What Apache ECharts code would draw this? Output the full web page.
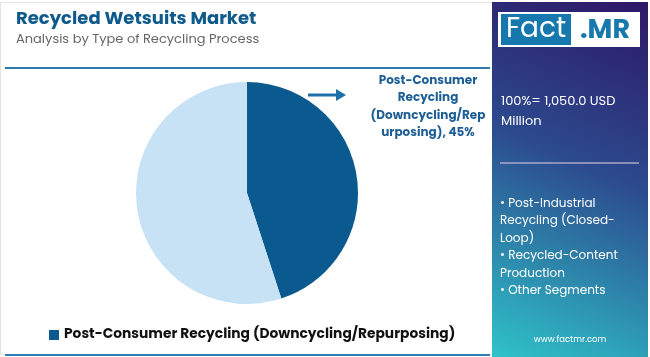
<!DOCTYPE html>
<html><head><meta charset="utf-8">
<script src="https://cdn.jsdelivr.net/npm/echarts@6/dist/echarts.min.js"></script>
<style>html,body{margin:0;padding:0;background:#fff}#c{width:650px;height:357px}</style>
</head><body><div id="c"></div>
<script>
const categories = ['Post-Consumer Recycling (Downcycling/Repurposing)', 'Other Segments Combined'];
const values = [45, 55];
const sliceColors = ['#0b5a8f', '#c6e2f4'];
const otherSegments = ['Post-Industrial\nRecycling (Closed-\nLoop)', 'Recycled-Content\nProduction', 'Other Segments'];
const totalText = '100%= 1,050.0 USD\nMillion';
const titleText = 'Recycled Wetsuits Market';
const subtitleText = 'Analysis by Type of Recycling Process';

const chart = echarts.init(document.getElementById('c'), null, {renderer: 'canvas'});
const F = 'Poppins, "Open Sans", sans-serif';
chart.setOption({
  animation: false,
  title: {
    text: titleText, subtext: subtitleText, left: 11, top: 5, itemGap: 5,
    textStyle: {fontFamily: F, fontSize: 18, fontWeight: 'bold', color: '#0e5a8c'},
    subtextStyle: {fontFamily: F, fontSize: 13, color: '#666'}
  },
  legend: {
    data: [categories[0]], left: 44, top: 323, itemWidth: 10, itemHeight: 10, icon: 'rect', itemGap: 6,
    textStyle: {fontFamily: F, fontSize: 13.8, fontWeight: 'bold', color: '#111'}
  },
  series: [{
    type: 'pie', radius: 111, center: [247, 193], startAngle: 90, clockwise: true,
    label: {show: false}, labelLine: {show: false}, silent: true,
    data: categories.map((n, i) => ({name: n, value: values[i], itemStyle: {color: sliceColors[i]}}))
  }],
  graphic: [
    {type: 'rect', shape: {x: 0.5, y: 2.5, width: 640, height: 352}, style: {fill: 'none', stroke: '#e2e2e2', lineWidth: 1}, z: 0},
    {type: 'line', shape: {x1: 5, y1: 68, x2: 490, y2: 68}, style: {stroke: '#2d7bb0', lineWidth: 2}},
    {type: 'line', shape: {x1: 5, y1: 355, x2: 490, y2: 355}, style: {stroke: '#2d7bb0', lineWidth: 2}},
    {type: 'rect', shape: {x: 492, y: 2, width: 156, height: 355},
      style: {fill: new echarts.graphic.LinearGradient(1, 0, 0, 1, [
        {offset: 0, color: '#2e1766'}, {offset: 0.45, color: '#2c4a8e'}, {offset: 1, color: '#2fc3c9'}])}},
    {type: 'rect', shape: {x: 498, y: 12, width: 142, height: 35}, style: {fill: '#ffffff'}},
    {type: 'rect', shape: {x: 501, y: 14, width: 70, height: 31}, style: {fill: '#1678ad'}},
    {type: 'text', style: {x: 536, y: 30, text: 'Fact', font: '28px ' + F, fill: '#fff', align: 'center', verticalAlign: 'middle'}},
    {type: 'text', style: {x: 605, y: 31, text: '.MR', font: 'bold 27px ' + F, fill: '#1678ad', align: 'center', verticalAlign: 'middle'}},
    {type: 'text', style: {x: 501, y: 92, text: totalText, font: '13px ' + F, fill: '#fff', lineHeight: 20}},
    {type: 'line', shape: {x1: 500, y1: 163, x2: 639, y2: 163}, style: {stroke: '#a8a9c8', lineWidth: 1.5}},
    {type: 'text', style: {x: 500, y: 195, text: otherSegments.map(s => '• ' + s).join('\n'), font: '12px ' + F, fill: '#fff', lineHeight: 17.5}},
    {type: 'text', style: {x: 570, y: 340, text: 'www.factmr.com', font: '8.5px ' + F, fill: '#fff', align: 'center', verticalAlign: 'middle'}},
    {type: 'line', shape: {x1: 308, y1: 95, x2: 338, y2: 95}, style: {stroke: '#1d6fa8', lineWidth: 3}},
    {type: 'polygon', shape: {points: [[336, 89], [346, 95], [336, 101]]}, style: {fill: '#1d6fa8'}},
    {type: 'text', style: {x: 428, y: 72, text: 'Post-Consumer\nRecycling\n(Downcycling/Rep\nurposing), ' + values[0] + '%', font: 'bold 12px ' + F, fill: '#1d5f95', align: 'center', lineHeight: 17.5}}
  ]
});
</script></body></html>
